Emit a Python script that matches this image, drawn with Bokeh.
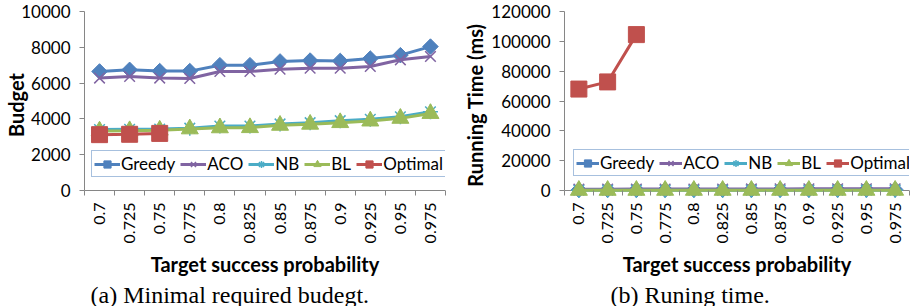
import math
from bokeh.plotting import figure
from bokeh.models import (FixedTicker, NumeralTickFormatter, Range1d, Legend, Title, Span)
from bokeh.layouts import row
from bokeh.embed import file_html
from bokeh.resources import INLINE

categories = ["0.7", "0.725", "0.75", "0.775", "0.8", "0.825",
              "0.85", "0.875", "0.9", "0.925", "0.95", "0.975"]
series_names = ["Greedy", "ACO", "NB", "BL", "Optimal"]

budget_greedy = [6650, 6740, 6670, 6670, 7000, 7000, 7210, 7260, 7240, 7370, 7560, 8040]
budget_aco = [6280, 6370, 6280, 6260, 6650, 6650, 6780, 6830, 6830, 6930, 7300, 7490]
budget_nb = [3410, 3420, 3430, 3480, 3600, 3600, 3720, 3790, 3900, 3980, 4120, 4400]
budget_bl = [3320, 3340, 3370, 3440, 3500, 3510, 3640, 3700, 3790, 3880, 4030, 4300]
budget_optimal = [3120, 3140, 3190]

time_greedy = [420, 450, 470, 480, 500, 520, 540, 560, 580, 600, 630, 660]
time_aco = [900, 920, 950, 970, 1000, 1020, 1050, 1080, 1100, 1130, 1160, 1200]
time_nb = [150, 155, 160, 165, 170, 175, 180, 185, 190, 195, 200, 210]
time_bl = [90, 92, 95, 97, 100, 102, 105, 108, 110, 113, 116, 120]
time_optimal = [68000, 72800, 104500]

budget_ticks = [0, 2000, 4000, 6000, 8000, 10000]
time_ticks = [0, 20000, 40000, 60000, 80000, 100000, 120000]

colors = {"Greedy": "#4F81BD", "ACO": "#8064A2", "NB": "#4BACC6",
          "BL": "#9BBB59", "Optimal": "#C0504D"}

FONT = "Lato"
AXIS_GRAY = "#868686"
PAD = 8  # px of frame kept below the zero line so markers at 0 stay whole


def make_chart(series, ymax, yticks, ylabel, caption, frame_w, border_l, border_r,
               border_t, legend_xy, legend_gw, legend_sp, ylab_standoff, cap_offset):
    n = len(categories)
    xs = list(range(n))
    per_px = ymax / 179.0
    ymin = -PAD * per_px
    p = figure(output_backend="svg", toolbar_location=None,
               frame_width=frame_w, frame_height=179 + PAD,
               min_border_left=border_l, min_border_right=border_r,
               min_border_top=border_t, min_border_bottom=0,
               x_range=Range1d(-0.5, n - 0.5), y_range=Range1d(ymin, ymax))
    p.outline_line_color = None
    p.xgrid.visible = False
    p.ygrid.visible = False
    p.background_fill_color = "white"

    # category axis line at the value 0
    p.add_layout(Span(location=0, dimension="width", line_color=AXIS_GRAY,
                      line_width=1, level="underlay"))

    items = []
    for name, vals in series:
        xv = xs[:len(vals)]
        r1 = p.line(xv, vals, line_color=colors[name], line_width=3)
        if name == "Greedy":
            r2 = p.scatter(xv, vals, marker="square", angle=0.785398, size=11,
                           fill_color=colors[name], line_color=colors[name])
        elif name == "ACO":
            r2 = p.scatter(xv, vals, marker="x", size=15, line_color=colors[name], line_width=1.5)
        elif name == "NB":
            r2 = p.scatter(xv, vals, marker="asterisk", size=15, line_color=colors[name], line_width=1.5)
        elif name == "BL":
            r2 = p.scatter(xv, vals, marker="triangle", size=17,
                           fill_color=colors[name], line_color=colors[name])
        else:
            r2 = p.scatter(xv, vals, marker="square", size=16,
                           fill_color=colors[name], line_color=colors[name])
        items.append((name, [r1, r2]))

    legend = Legend(items=items, orientation="horizontal", location=legend_xy,
                    label_text_font=FONT, label_text_font_size="17px",
                    label_text_color="black", glyph_width=legend_gw, glyph_height=18,
                    label_standoff=1, spacing=legend_sp, padding=2, margin=0,
                    label_height=20,
                    border_line_color="#4F81BD", border_line_width=1,
                    background_fill_color="white", background_fill_alpha=1.0)
    p.add_layout(legend, "center")

    # x axis
    xa = p.xaxis[0]
    xa.ticker = FixedTicker(ticks=xs, minor_ticks=[i - 0.5 for i in range(n + 1)])
    xa.major_label_overrides = {i: c for i, c in enumerate(categories)}
    xa.major_label_orientation = math.pi / 2
    xa.major_tick_line_color = None
    xa.major_tick_in = 0
    xa.major_tick_out = 0
    xa.minor_tick_in = PAD
    xa.minor_tick_out = -3
    xa.minor_tick_line_color = AXIS_GRAY
    xa.axis_line_color = None
    xa.major_label_standoff = 4
    xa.major_label_text_font = FONT
    xa.major_label_text_font_size = "16px"
    xa.major_label_text_color = "black"
    xa.axis_label = "Target success probability"
    xa.axis_label_text_font = FONT
    xa.axis_label_text_font_size = "20px"
    xa.axis_label_text_font_style = "bold"
    xa.axis_label_text_color = "black"
    xa.axis_label_standoff = 6

    # y axis
    ya = p.yaxis[0]
    ya.bounds = (0, ymax)
    ya.ticker = FixedTicker(ticks=yticks)
    ya.formatter = NumeralTickFormatter(format="0")
    ya.major_tick_in = 0
    ya.major_tick_out = 5
    ya.major_tick_line_color = AXIS_GRAY
    ya.minor_tick_line_color = None
    ya.axis_line_color = AXIS_GRAY
    ya.major_label_standoff = 9
    ya.major_label_text_font = FONT
    ya.major_label_text_font_size = "17px"
    ya.major_label_text_color = "black"
    ya.axis_label = ylabel
    ya.axis_label_text_font = FONT
    ya.axis_label_text_font_size = "20px"
    ya.axis_label_text_font_style = "bold"
    ya.axis_label_text_color = "black"
    ya.axis_label_standoff = ylab_standoff

    p.add_layout(Title(text=caption, align="left", offset=cap_offset,
                       text_font="Liberation Serif", text_font_size="24px",
                       text_font_style="normal", text_color="black",
                       standoff=0), "below")
    return p


left_series = [("Greedy", budget_greedy), ("ACO", budget_aco), ("NB", budget_nb),
               ("BL", budget_bl), ("Optimal", budget_optimal)]
right_series = [("Greedy", time_greedy), ("ACO", time_aco), ("NB", time_nb),
                ("BL", time_bl), ("Optimal", time_optimal)]

p1 = make_chart(left_series, 10000, budget_ticks, "Budget",
                "(a) Minimal required budegt.", 361, 86, 9, 12, (7, 21), 26, 5, -10, 6)
p2 = make_chart(right_series, 120000, time_ticks, "Running Time (ms)",
                "(b) Runing time.", 345, 110, 2, 13, (9, 22), 23, 5, 1, 46)

layout = row(p1, p2, styles={"margin-left": "-2px", "margin-top": "-2px"})

open("out.html", "w").write(file_html(layout, INLINE))
